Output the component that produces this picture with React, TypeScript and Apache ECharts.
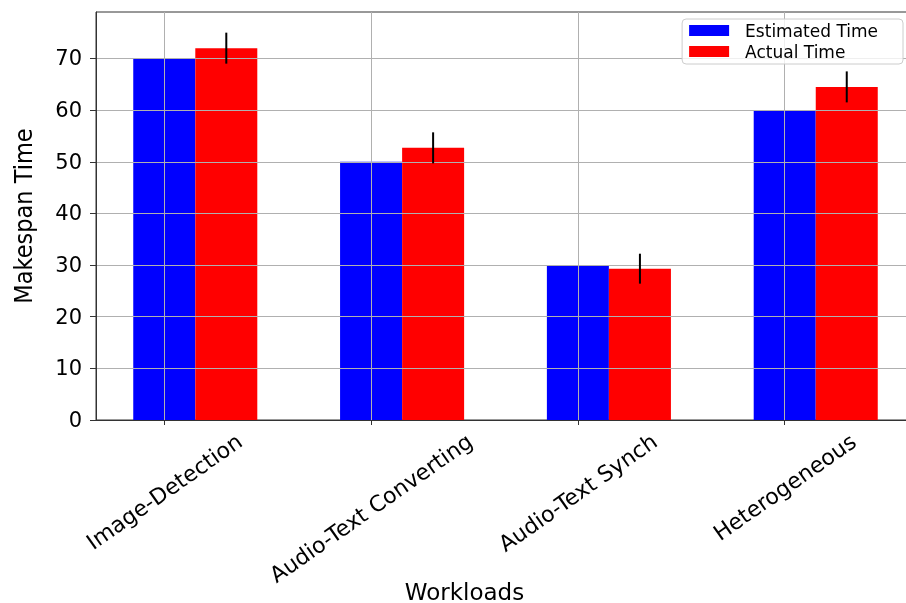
import React, { useEffect, useRef } from "react";
import * as echarts from "echarts";

const categories = ["Image-Detection", "Audio-Text Converting", "Audio-Text Synch", "Heterogeneous"];
const estimatedTime = [70, 50, 30, 60];
const actualTime = [72, 52.7, 29.3, 64.5];
const actualError = [3, 3, 2.9, 3];
const yTicks = [0, 10, 20, 30, 40, 50, 60, 70];
const seriesNames = ["Estimated Time", "Actual Time"];

const BAR_OFFSET = 0.3; // second bar sits one bar-width (0.3 category units) to the right
const LABEL_ROTATE = 35;
const LABEL_FONT = 22;
const FONT = "DejaVu Sans";

export default function App() {
  const ref = useRef<HTMLDivElement>(null);

  useEffect(() => {
    if (!ref.current) return;
    const chart = echarts.init(ref.current, null, { renderer: "svg" });
    const idx = categories.map((_, i) => i);

    // Rotated labels centred under their tick (matplotlib ha="center" style)
    const ctx = document.createElement("canvas").getContext("2d") as CanvasRenderingContext2D;
    ctx.font = `${LABEL_FONT}px "${FONT}"`;
    const th = (LABEL_ROTATE * Math.PI) / 180;
    const rich: Record<string, any> = {};
    categories.forEach((c, i) => {
      const L = ctx.measureText(c).width;
      rich["l" + i] = {
        fontFamily: FONT,
        fontSize: LABEL_FONT,
        color: "#000",
        padding: [L * Math.sin(th) * Math.cos(th), L * Math.sin(th) * Math.sin(th), 0, 0],
      };
    });

    const option: any = {
      animation: false,
      grid: {
        left: 96,
        right: -9,
        top: 12,
        bottom: 183,
        show: true,
        borderColor: "#333",
        borderWidth: 1,
        backgroundColor: "transparent",
        outerBoundsMode: "none",
      },
      legend: {
        data: seriesNames,
        orient: "vertical",
        align: "left",
        right: 3,
        top: 19,
        itemWidth: 40,
        itemHeight: 11,
        itemGap: 4,
        icon: "rect",
        padding: [3, 25, 4, 7],
        backgroundColor: "rgba(255,255,255,0.8)",
        borderColor: "#cccccc",
        borderWidth: 1,
        borderRadius: 4,
        textStyle: { fontFamily: FONT, fontSize: 17, color: "#000", padding: [0, 0, 0, 11] },
      },
      xAxis: {
        type: "value",
        min: -0.33,
        max: 3.63,
        z: 3,
        name: "Workloads",
        nameLocation: "middle",
        nameGap: 160,
        nameMoveOverlap: false,
        nameTextStyle: { fontFamily: FONT, fontSize: 23, color: "#000", padding: [0, 82, 0, 0] },
        axisLine: { show: true, onZero: false, lineStyle: { color: "#333", width: 1 } },
        axisTick: { show: true, length: 5, customValues: idx, lineStyle: { color: "#333" } },
        axisLabel: {
          customValues: idx,
          rotate: LABEL_ROTATE,
          align: "center",
          verticalAlign: "middle",
          margin: 19,
          fontFamily: FONT,
          fontSize: LABEL_FONT,
          color: "#000",
          formatter: (v: number) => `{l${Math.round(v)}|${categories[Math.round(v)]}}`,
          rich,
        },
        splitLine: { show: true, lineStyle: { color: "#b0b0b0", width: 1 } },
      },
      yAxis: {
        type: "value",
        min: 0,
        max: 79,
        z: 3,
        name: "Makespan Time",
        nameLocation: "middle",
        nameGap: 60,
        nameMoveOverlap: false,
        nameTextStyle: {
          fontFamily: '"Liberation Sans Narrow", "DejaVu Sans Condensed", sans-serif',
          fontSize: 25,
          color: "#000",
        },
        axisLine: { show: true, onZero: false, lineStyle: { color: "#333", width: 1 } },
        axisTick: { show: true, length: 6, customValues: yTicks, lineStyle: { color: "#333" } },
        axisLabel: { customValues: yTicks, margin: 14, fontFamily: FONT, fontSize: 21, color: "#000" },
        splitLine: { show: true, lineStyle: { color: "#b0b0b0", width: 1 } },
      },
      series: [
        {
          name: seriesNames[0],
          type: "bar",
          data: idx.map((i) => [i, estimatedTime[i]]),
          barWidth: 62,
          barGap: "-100%",
          itemStyle: { color: "#0000ff" },
          z: 2,
        },
        {
          name: seriesNames[1],
          type: "bar",
          data: idx.map((i) => [i + BAR_OFFSET, actualTime[i]]),
          barWidth: 62,
          barGap: "-100%",
          itemStyle: { color: "#ff0000" },
          z: 2,
        },
        {
          name: "Actual Time error",
          type: "custom",
          data: idx.map((i) => [i + BAR_OFFSET, actualTime[i], actualError[i]]),
          encode: { x: 0, y: 1 },
          z: 10,
          silent: true,
          renderItem: (_params: any, api: any) => {
            const x = api.value(0);
            const y = api.value(1);
            const e = api.value(2);
            const p1 = api.coord([x, y + e]);
            const p2 = api.coord([x, y - e]);
            return {
              type: "line",
              shape: { x1: p1[0], y1: p1[1], x2: p2[0], y2: p2[1] },
              style: { stroke: "#000", lineWidth: 2 },
            };
          },
        },
      ],
    };

    chart.setOption(option);
    return () => chart.dispose();
  }, []);

  return <div ref={ref} style={{ position: "fixed", left: 0, top: 0, width: 906, height: 603 }} />;
}
